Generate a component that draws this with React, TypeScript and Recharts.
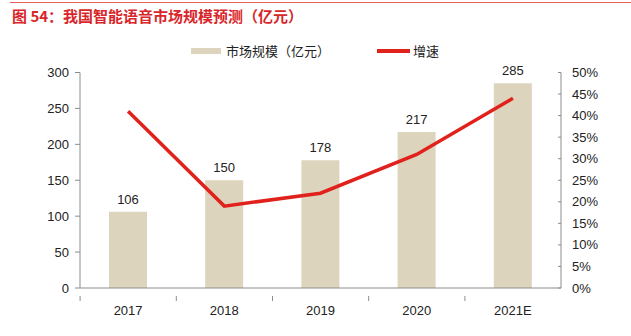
import React from "react";
import { ComposedChart, Bar, Line, XAxis, YAxis, LabelList } from "recharts";

const years = ["2017", "2018", "2019", "2020", "2021E"];
const marketSize = [106, 150, 178, 217, 285];
const growth = [0.41, 0.19, 0.22, 0.31, 0.44];
const leftTicks = [0, 50, 100, 150, 200, 250, 300];
const rightTicks = [0, 0.05, 0.1, 0.15, 0.2, 0.25, 0.3, 0.35, 0.4, 0.45, 0.5];

const data = years.map((year, i) => ({ year, size: marketSize[i], growth: growth[i] }));

const BAR = "#ddd4bd";
const RED = "#e1221c";
const AXIS = "#8c8c8c";
const FONT = "'Liberation Sans', Arial, 'Noto Sans CJK SC', sans-serif";

// plot box: x 80..560, so each category band is 96px wide
const HALF_BAND = 48;

function XTick(props: any) {
  const { x, y, payload } = props;
  return (
    <g>
      <line x1={x - HALF_BAND} y1={y} x2={x - HALF_BAND} y2={y + 5} stroke={AXIS} />
      <text x={x} y={y + 19} textAnchor="middle" fontSize={13} fill="#222" fontFamily={FONT}>
        {payload.value}
      </text>
    </g>
  );
}

function RightTick(props: any) {
  const { x, y, payload } = props;
  return (
    <g>
      <line x1={x - 3} y1={y} x2={x} y2={y} stroke={AXIS} />
      <text x={x + 11} y={y + 4.5} textAnchor="start" fontSize={13} fill="#222" fontFamily={FONT}>
        {`${Math.round(payload.value * 100)}%`}
      </text>
    </g>
  );
}

export default function App() {
  return (
    <div style={{ position: "absolute", left: 0, top: 0, width: 631, height: 336, background: "#fff", fontFamily: FONT }}>
      <div style={{ position: "absolute", left: 10, right: 0, top: 2, height: 1, background: "#e8605c" }} />
      <div
        style={{
          position: "absolute",
          left: 12,
          top: 5,
          fontSize: 15,
          fontWeight: "bold",
          color: "#d9262a",
          fontFamily: "'Noto Sans CJK SC', sans-serif",
          whiteSpace: "nowrap",
        }}
      >
        图 54：我国智能语音市场规模预测（亿元）
      </div>

      {/* legend */}
      <div style={{ position: "absolute", left: 191, top: 48, width: 30, height: 6, background: BAR }} />
      <div style={{ position: "absolute", left: 226, top: 41, fontSize: 13, color: "#222", fontFamily: "'Noto Sans CJK SC', sans-serif", whiteSpace: "nowrap" }}>
        市场规模（亿元）
      </div>
      <div style={{ position: "absolute", left: 377, top: 49, width: 33, height: 4, background: RED }} />
      <div style={{ position: "absolute", left: 413, top: 41, fontSize: 13, color: "#222", fontFamily: "'Noto Sans CJK SC', sans-serif", whiteSpace: "nowrap" }}>
        增速
      </div>

      <div style={{ position: "absolute", left: 0, top: 0 }}>
        <ComposedChart
          width={631}
          height={336}
          data={data}
          margin={{ top: 72.5, right: 20, bottom: 18, left: 30 }}
          barCategoryGap={29}
        >
          <XAxis
            dataKey="year"
            stroke={AXIS}
            tickLine={false}
            tick={<XTick />}
            height={30}
            interval={0}
          />
          <YAxis
            yAxisId="left"
            domain={[0, 300]}
            ticks={leftTicks}
            interval={0}
            stroke={AXIS}
            tickSize={5}
            tickMargin={6}
            width={50}
            tick={{ fontSize: 13, fill: "#222", fontFamily: FONT }}
          />
          <YAxis
            yAxisId="right"
            orientation="right"
            domain={[0, 0.5]}
            ticks={rightTicks}
            interval={0}
            stroke={AXIS}
            tickLine={false}
            tickSize={0}
            tickMargin={0}
            width={50}
            tick={<RightTick />}
          />
          <Bar yAxisId="left" dataKey="size" fill={BAR} isAnimationActive={false}>
            <LabelList dataKey="size" position="top" offset={8} fontSize={13} fill="#222" fontFamily={FONT} />
          </Bar>
          <Line
            yAxisId="right"
            dataKey="growth"
            stroke={RED}
            strokeWidth={3.5}
            dot={false}
            activeDot={false}
            isAnimationActive={false}
          />
        </ComposedChart>
      </div>
    </div>
  );
}
